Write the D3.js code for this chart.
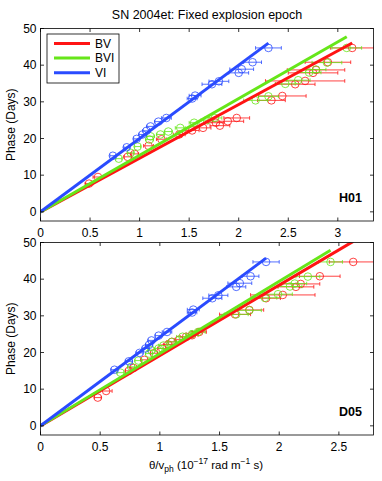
<!DOCTYPE html>
<html>
<head>
<meta charset="utf-8">
<script src="https://cdn.jsdelivr.net/npm/d3@7/dist/d3.min.js"></script>
<style>
  body { margin: 0; background: #fff; }
  text { font-family: "Liberation Sans", Arial, sans-serif; }
</style>
</head>
<body>
<div id="chart"></div>
<script>
"use strict";

var seriesNames = ["BV", "BVI", "VI"];
var seriesColors = ["#ff1414", "#66e619", "#2a4bff"];

// phases (days) per series, shared by both panels
var phaseBV = [7.7, 9.5, 15.0, 15.8, 18.0, 19.8, 21.1, 22.2, 22.9, 23.5, 24.3, 24.7, 25.6, 30.4, 31.6, 34.8, 35.7, 37.9, 38.7, 40.8, 44.7];
var phaseBVI = [14.5, 16.1, 17.8, 19.7, 20.6, 21.1, 21.9, 22.9, 24.3, 25.0, 25.6, 30.4, 31.5, 34.9, 35.9, 38.0, 38.8, 40.7, 44.7];
var phaseVI = [15.3, 17.6, 19.9, 21.1, 22.1, 23.3, 24.6, 25.6, 30.9, 31.7, 34.8, 35.6, 37.9, 38.9, 40.8, 44.7];

// H01 panel: theta/v_ph values and errors
var h01ThetaBV = [0.49, 0.58, 0.88, 0.95, 1.09, 1.22, 1.40, 1.53, 1.64, 1.81, 1.77, 1.89, 1.98, 2.33, 2.44, 2.57, 2.67, 2.75, 2.78, 2.90, 3.145];
var h01ErrBV = [0.04, 0.05, 0.04, 0.04, 0.05, 0.05, 0.06, 0.07, 0.08, 0.10, 0.08, 0.16, 0.13, 0.14, 0.24, 0.20, 0.40, 0.25, 0.29, 0.23, 0.22];
var h01ThetaBVI = [0.79, 0.91, 0.98, 1.10, 1.11, 1.21, 1.29, 1.41, 1.55, 1.68, 1.76, 2.17, 2.30, 2.47, 2.60, 2.71, 2.78, 2.89, 3.09];
var h01ErrBVI = [0.03, 0.03, 0.03, 0.04, 0.04, 0.04, 0.04, 0.05, 0.05, 0.06, 0.07, 0.12, 0.10, 0.10, 0.12, 0.12, 0.10, 0.15, 0.15];
var h01ThetaVI = [0.73, 0.87, 0.97, 1.03, 1.07, 1.11, 1.19, 1.27, 1.53, 1.56, 1.73, 1.80, 2.00, 2.03, 2.14, 2.30];
var h01ErrVI = [0.03, 0.03, 0.03, 0.04, 0.04, 0.04, 0.04, 0.05, 0.05, 0.06, 0.10, 0.10, 0.10, 0.12, 0.09, 0.13];
var h01Slopes = [14.64, 15.45, 20.0];

// D05 panel
var d05ThetaBV = [0.48, 0.55, 0.74, 0.78, 0.87, 0.95, 1.02, 1.07, 1.10, 1.16, 1.22, 1.27, 1.33, 1.63, 1.75, 1.89, 2.03, 2.14, 2.18, 2.34, 2.62];
var d05ErrBV = [0.03, 0.05, 0.03, 0.03, 0.03, 0.03, 0.04, 0.04, 0.04, 0.04, 0.05, 0.05, 0.06, 0.13, 0.12, 0.12, 0.27, 0.15, 0.16, 0.17, 0.20];
var d05ThetaBVI = [0.67, 0.76, 0.82, 0.91, 0.93, 0.99, 1.03, 1.10, 1.19, 1.27, 1.32, 1.64, 1.75, 1.88, 1.99, 2.09, 2.13, 2.24, 2.43];
var d05ErrBVI = [0.03, 0.03, 0.03, 0.03, 0.03, 0.04, 0.04, 0.04, 0.05, 0.05, 0.06, 0.10, 0.10, 0.10, 0.12, 0.10, 0.10, 0.10, 0.10];
var d05ThetaVI = [0.62, 0.74, 0.83, 0.88, 0.91, 0.93, 0.99, 1.06, 1.27, 1.28, 1.44, 1.49, 1.64, 1.67, 1.76, 1.89];
var d05ErrVI = [0.03, 0.03, 0.03, 0.03, 0.03, 0.03, 0.03, 0.04, 0.04, 0.05, 0.08, 0.08, 0.08, 0.10, 0.07, 0.11];
var d05Slopes = [19.2, 19.7, 24.2];

var xTicks = [0, 0.5, 1, 1.5, 2, 2.5, 3];
var yTicks = [0, 10, 20, 30, 40, 50];

var W = 382, H = 481;
var svg = d3.select("#chart").append("svg").attr("width", W).attr("height", H);

function zip(th, ph, er) {
  return th.map(function(t, i) { return {x: t, y: ph[i], e: er[i]}; });
}

var panels = [
  { id: "h01", label: "H01", top: 28.5, xmax: 3.36, slopes: h01Slopes,
    series: [zip(h01ThetaBV, phaseBV, h01ErrBV), zip(h01ThetaBVI, phaseBVI, h01ErrBVI), zip(h01ThetaVI, phaseVI, h01ErrVI)] },
  { id: "d05", label: "D05", top: 242.5, xmax: 2.79, slopes: d05Slopes,
    series: [zip(d05ThetaBV, phaseBV, d05ErrBV), zip(d05ThetaBVI, phaseBVI, d05ErrBVI), zip(d05ThetaVI, phaseVI, d05ErrVI)] }
];

var left = 40.5, right = 373.5, ph = 192.5;

panels.forEach(function(p, pi) {
  var x = d3.scaleLinear().domain([0, p.xmax]).range([left, right]);
  var y = d3.scaleLinear().domain([-2.5, 50]).range([p.top + ph, p.top]);
  var g = svg.append("g");

  g.append("clipPath").attr("id", "clip-" + p.id)
    .append("rect").attr("x", left).attr("y", p.top).attr("width", right - left).attr("height", ph);

  var plot = g.append("g").attr("clip-path", "url(#clip-" + p.id + ")");

  // error bars and circles
  p.series.forEach(function(data, si) {
    var c = seriesColors[si];
    var s = plot.append("g").attr("stroke", c).attr("fill", "none").attr("stroke-width", 0.8);
    data.forEach(function(d) {
      var x0 = x(d.x - d.e), x1 = x(d.x + d.e), yy = y(d.y);
      s.append("line").attr("x1", x0).attr("x2", x1).attr("y1", yy).attr("y2", yy);
      s.append("line").attr("x1", x0).attr("x2", x0).attr("y1", yy - 1.8).attr("y2", yy + 1.8);
      s.append("line").attr("x1", x1).attr("x2", x1).attr("y1", yy - 1.8).attr("y2", yy + 1.8);
      s.append("circle").attr("cx", x(d.x)).attr("cy", yy).attr("r", 3.8);
    });
  });

  // fit lines through origin
  p.series.forEach(function(data, si) {
    var xe = d3.max(data, function(d) { return d.x; });
    plot.append("line")
      .attr("x1", x(0)).attr("y1", y(0))
      .attr("x2", x(xe)).attr("y2", y(xe * p.slopes[si]))
      .attr("stroke", seriesColors[si]).attr("stroke-width", 3);
  });

  // axes box with inward ticks
  var ax = g.append("g").attr("stroke", "#000").attr("stroke-width", 0.8);
  ax.append("rect").attr("x", left).attr("y", p.top).attr("width", right - left).attr("height", ph).attr("fill", "none");
  xTicks.filter(function(t) { return t <= p.xmax; }).forEach(function(t) {
    ax.append("line").attr("x1", x(t)).attr("x2", x(t)).attr("y1", p.top + ph).attr("y2", p.top + ph - 3.5);
    ax.append("line").attr("x1", x(t)).attr("x2", x(t)).attr("y1", p.top).attr("y2", p.top + 3.5);
    g.append("text").attr("x", x(t)).attr("y", p.top + ph + 15.5).attr("text-anchor", "middle")
      .attr("font-size", 12).text(d3.format("")(t));
  });
  yTicks.forEach(function(t) {
    ax.append("line").attr("x1", left).attr("x2", left + 3.5).attr("y1", y(t)).attr("y2", y(t));
    ax.append("line").attr("x1", right).attr("x2", right - 3.5).attr("y1", y(t)).attr("y2", y(t));
    g.append("text").attr("x", left - 4).attr("y", y(t) + 4.3).attr("text-anchor", "end")
      .attr("font-size", 12).text(t);
  });

  g.append("text").attr("transform", "translate(15," + (p.top + ph / 2) + ") rotate(-90)")
    .attr("text-anchor", "middle").attr("font-size", 12).text("Phase (Days)");

  g.append("text").attr("x", 362).attr("y", y(0) - 10).attr("text-anchor", "end")
    .attr("font-size", 12.5).attr("font-weight", "bold").text(p.label);

  if (pi === 0) {
    var lg = g.append("g");
    lg.append("rect").attr("x", 47).attr("y", 34).attr("width", 72).attr("height", 49)
      .attr("fill", "#fff").attr("stroke", "#000").attr("stroke-width", 0.8);
    seriesNames.forEach(function(n, i) {
      var yy = 43.5 + i * 14.6;
      lg.append("line").attr("x1", 54).attr("x2", 90).attr("y1", yy).attr("y2", yy)
        .attr("stroke", seriesColors[i]).attr("stroke-width", 3);
      lg.append("text").attr("x", 95).attr("y", yy + 4.3).attr("font-size", 12).text(n);
    });
  }
});

svg.append("text").attr("x", 207).attr("y", 18.5).attr("text-anchor", "middle")
  .attr("font-size", 12.5).text("SN 2004et: Fixed explosion epoch");

var xl = svg.append("text").attr("x", 206).attr("y", 469).attr("text-anchor", "middle").attr("font-size", 11.5);
xl.append("tspan").text("θ/v");
xl.append("tspan").attr("dy", 3).attr("font-size", 8.5).text("ph");
xl.append("tspan").attr("dy", -3).text(" (10");
xl.append("tspan").attr("dy", -5).attr("font-size", 8.5).text("−17");
xl.append("tspan").attr("dy", 5).text(" rad m");
xl.append("tspan").attr("dy", -5).attr("font-size", 8.5).text("−1");
xl.append("tspan").attr("dy", 5).text(" s)");
</script>
</body>
</html>
